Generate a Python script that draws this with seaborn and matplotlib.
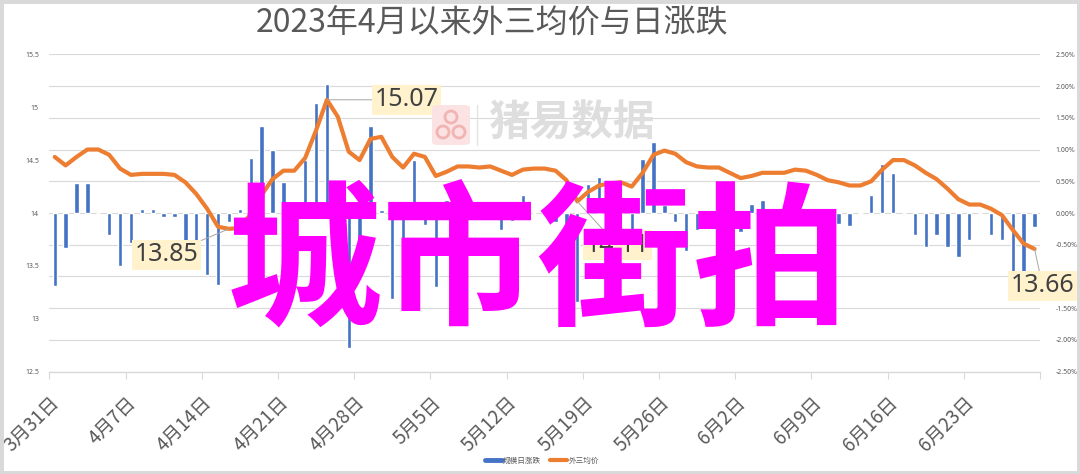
import numpy as np
import pandas as pd
import matplotlib
matplotlib.use("Agg")
import matplotlib.pyplot as plt
import seaborn as sns
from matplotlib.lines import Line2D
from matplotlib.patches import Rectangle, FancyBboxPatch, Ellipse

# ---------------- data ----------------
dates = pd.date_range("2023-03-31", periods=91, freq="D")

price = [14.53, 14.45, 14.53, 14.60, 14.60, 14.55, 14.42, 14.36, 14.37, 14.37,
         14.37, 14.36, 14.29, 14.18, 14.04, 13.87, 13.85, 13.86, 13.99, 14.17,
         14.32, 14.40, 14.40, 14.52, 14.78, 15.07, 14.91, 14.58, 14.50, 14.70,
         14.72, 14.53, 14.43, 14.56, 14.53, 14.35, 14.39, 14.44, 14.44, 14.43,
         14.44, 14.40, 14.36, 14.41, 14.42, 14.42, 14.40, 14.31, 14.11, 14.20,
         14.26, 14.28, 14.29, 14.25, 14.38, 14.55, 14.59, 14.56, 14.48, 14.44,
         14.43, 14.43, 14.38, 14.33, 14.35, 14.38, 14.38, 14.38, 14.41, 14.40,
         14.36, 14.31, 14.29, 14.26, 14.26, 14.30, 14.41, 14.50, 14.50, 14.45,
         14.38, 14.32, 14.23, 14.13, 14.08, 14.08, 14.04, 13.98, 13.84, 13.71,
         13.66]

pct_change = [-1.15, -0.55, 0.48, 0.48, 0.00, -0.34, -0.83, -0.48, 0.06, 0.06,
              -0.06, -0.06, -0.50, -0.75, -0.98, -1.13, -0.14, 0.07, 0.87, 1.37,
              0.99, 0.49, 0.02, 0.84, 1.73, 2.04, -1.06, -2.13, -0.58, 1.37,
              0.05, -1.35, -0.53, 0.84, -0.19, -1.16, 0.20, 0.35, -0.02, -0.05,
              0.03, -0.27, -0.13, 0.28, 0.00, -0.01, -0.14, -0.62, -1.40, 0.45,
              0.57, 0.10, 0.05, -0.26, 0.85, 1.12, 0.13, -0.14, -0.60, -0.27,
              -0.07, 0.00, -0.35, -0.30, 0.14, 0.20, 0.00, 0.00, 0.14, -0.05,
              -0.19, -0.34, -0.17, -0.20, 0.00, 0.28, 0.77, 0.63, 0.00, -0.34,
              -0.54, -0.34, -0.54, -0.69, -0.42, 0.00, -0.34, -0.42, -1.00, -0.95,
              -0.22]

tick_labels = ["3月31日", "4月7日", "4月14日", "4月21日", "4月28日", "5月5日",
               "5月12日", "5月19日", "5月26日", "6月2日", "6月9日", "6月16日",
               "6月23日", ""]
price_ticks = [12.5, 13, 13.5, 14, 14.5, 15, 15.5]
price_tick_labels = ["12.5", "13", "13.5", "14", "14.5", "15", "15.5"]
pct_ticks = [-2.5, -2.0, -1.5, -1.0, -0.5, 0.0, 0.5, 1.0, 1.5, 2.0, 2.5]
labelled_points = [25, 16, 48, 90]   # indices with data labels

title = "2023年4月以来外三均价与日涨跌"
series_names = ["规模日涨跌", "外三均价"]

# ---------------- style ----------------
BLUE = "#4472C4"
ORANGE = "#ED7D31"
GRID = "#D9D9D9"
TXT = "#595959"

sns.set_theme(style="white")
plt.rcParams["font.family"] = ["Noto Sans CJK SC", "DejaVu Sans"]

W, H = 1080, 474
fig = plt.figure(figsize=(W / 100, H / 100), dpi=100)
fig.patch.set_facecolor("white")

x0, x1, ytop, ybot = 49.3, 1040, 54.3, 371.7
ax = fig.add_axes([x0 / W, 1 - ybot / H, (x1 - x0) / W, (ybot - ytop) / H])

df = pd.DataFrame({
    "date": [f"{d.month}月{d.day}日" for d in dates],
    "idx": np.arange(len(dates)),
    "price": price,
    "pct": pct_change,
})

sns.barplot(data=df, x="date", y="pct", ax=ax, color=BLUE, saturation=1,
            width=0.4, errorbar=None, zorder=2)
ax.set_ylim(-2.5, 2.5)

ax2 = ax.twinx()
sns.lineplot(data=df, x="idx", y="price", ax=ax2, color=ORANGE, linewidth=3.0,
             solid_capstyle="round", solid_joinstyle="round", zorder=3)
ax2.set_ylim(12.5, 15.5)

for a in (ax, ax2):
    a.set_xlim(-0.5, 90.5)
    a.set_xlabel("")
    a.set_ylabel("")
    for s in a.spines.values():
        s.set_visible(False)

# right axis (percent) for bars
ax.yaxis.tick_right()
ax.set_yticks(pct_ticks)
ax.set_yticklabels([f"{v:.2f}%" for v in pct_ticks], fontsize=5, color=TXT,
                   family=["Noto Sans", "DejaVu Sans"])
ax.tick_params(axis="y", right=False, left=False, pad=5)
ax.grid(axis="y", color=GRID, linewidth=0.8)
ax.grid(axis="x", visible=False)
ax.set_axisbelow(True)

# left axis (price) for line
ax2.yaxis.tick_left()
ax2.set_yticks(price_ticks)
ax2.set_yticklabels(price_tick_labels, fontsize=5, color=TXT,
                    family=["Noto Sans", "DejaVu Sans"])
ax2.tick_params(axis="y", left=False, right=False, pad=1.5)
ax2.grid(False)

# x axis
ax.spines["bottom"].set_visible(True)
ax.spines["bottom"].set_color(GRID)
ax.spines["bottom"].set_linewidth(1.0)
ax.set_xticks(np.arange(-0.5, 91, 7))
ax.set_xticklabels(tick_labels, rotation=45, ha="right", rotation_mode="anchor",
                   fontsize=13.5, color=TXT)
ax.tick_params(axis="x", bottom=True, length=5, width=0.8, color=GRID, pad=10)

# data labels
offsets = {25: (80, 0), 16: (-62, -26), 48: (40, -44), 90: (8, -37)}
for i in labelled_points:
    ax2.annotate(f"{price[i]:.2f}", xy=(i, price[i]), xytext=offsets[i],
                 textcoords="offset pixels", ha="center", va="center",
                 fontsize=18, color="#404040", family=["Noto Sans", "DejaVu Sans"],
                 bbox=dict(boxstyle="square,pad=0.1", fc="#FFF2CC", ec="none"),
                 arrowprops=dict(arrowstyle="-", color="#A6A6A6", lw=0.7,
                                 shrinkA=0, shrinkB=0),
                 zorder=10, annotation_clip=False)

# title
fig.text(492 / W, 1 - 24 / H, title, ha="center", va="center", fontsize=23,
         color=TXT)

# legend
handles = [Line2D([0], [0], color=BLUE, lw=3.5), Line2D([0], [0], color=ORANGE, lw=3)]
fig.legend(handles, series_names, loc="center", bbox_to_anchor=(542 / W, 13 / H),
           ncol=2, frameon=False, fontsize=5.5, handlelength=2.2, columnspacing=1.2,
           handletextpad=0.2, labelcolor=TXT)

# watermark
def fx(px):
    return px / W

def fy(py):
    return 1 - py / H

fig.add_artist(FancyBboxPatch((fx(432), fy(145)), 38 / W, 40 / H,
                              boxstyle="round,pad=0,rounding_size=0.006",
                              transform=fig.transFigure, fc="#FBE3E3", ec="none",
                              zorder=4))
for cx, cy in [(451, 117), (443, 132), (459, 132)]:
    fig.add_artist(Ellipse((fx(cx), fy(cy)), 12 / W, 12 / H, transform=fig.transFigure,
                           fc="none", ec="#F2B3B3", lw=2, zorder=5))
fig.add_artist(Line2D([fx(477), fx(477)], [fy(105), fy(145)], color="#E3E3E3", lw=1,
                      transform=fig.transFigure, zorder=4))
fig.text(fx(571), fy(124), "猪易数据", ha="center", va="center", fontsize=30,
         fontweight="bold", color="#DEDEDE", zorder=4)

# overlay text
fig.text(fx(538), fy(268), "城市街拍", ha="center", va="center", fontsize=112,
         fontweight="bold", color="#FF00FF", zorder=20)

# chart border
fig.add_artist(Rectangle((0, 0), 1, 1, transform=fig.transFigure, fill=False,
                         ec="#D9D9D9", lw=5, zorder=30))

fig.savefig("out.png", dpi=100)
